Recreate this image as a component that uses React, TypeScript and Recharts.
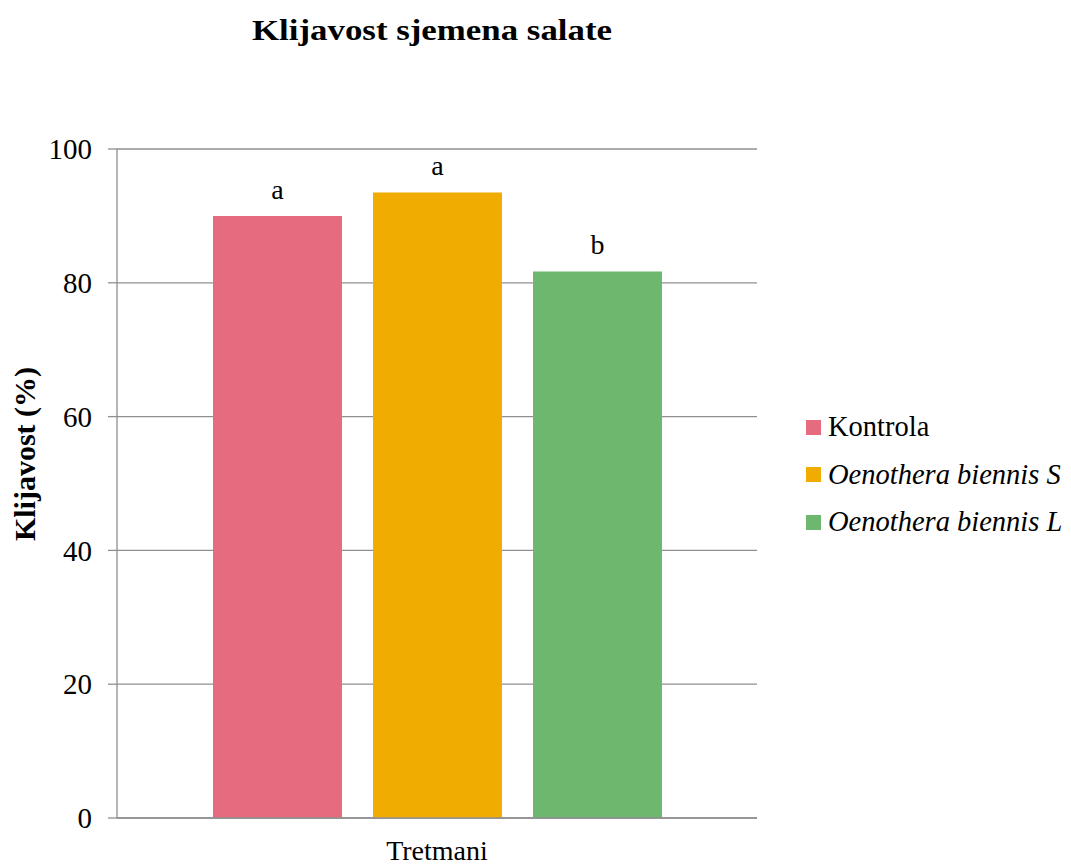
import React from 'react';
import { BarChart, Bar, XAxis, YAxis, CartesianGrid, LabelList } from 'recharts';

const categories = ['Tretmani'];
const seriesNames = ['Kontrola', 'Oenothera biennis S', 'Oenothera biennis L'];
const seriesKeys = ['kontrola', 'obS', 'obL'];
const kontrolaValues = [90];
const obSValues = [93.5];
const obLValues = [81.7];
const significanceLetters = ['a', 'a', 'b'];
const yTicks = [0, 20, 40, 60, 80, 100];
const colors = ['#E66B7E', '#F0AC00', '#6DB76E'];
const italicSeries = [false, true, true];

const data = categories.map((c, i) => ({
  name: c,
  kontrola: kontrolaValues[i],
  obS: obSValues[i],
  obL: obLValues[i],
}));

const FONT = '"Liberation Serif", "Times New Roman", serif';
const GRAY = '#8f8f8f';

export default function App() {
  return (
    <div style={{ position: 'absolute', left: 0, top: 0, width: 1071, height: 865, background: '#fff', fontFamily: FONT }}>
      <svg width={1071} height={70} style={{ position: 'absolute', left: 0, top: 0 }}>
        <text x={432} y={40} textAnchor="middle" fontFamily={FONT} fontWeight="bold" fontSize={30} textLength={360} lengthAdjust="spacingAndGlyphs" fill="#000">
          Klijavost sjemena salate
        </text>
      </svg>
      <div style={{ position: 'absolute', left: 0, top: 0 }}>
        <BarChart
          width={1071}
          height={865}
          data={data}
          margin={{ top: 149, right: 314, bottom: 0, left: 0 }}
          barSize={129}
          barGap={31}
        >
          <CartesianGrid vertical={false} stroke={GRAY} strokeWidth={1.3} />
          <XAxis xAxisId="cat" dataKey="name" hide height={0} />
          <XAxis
            xAxisId="edge"
            type="number"
            domain={[0, 1]}
            ticks={[0, 1]}
            allowDataOverflow
            tick={false}
            tickSize={8}
            height={47}
            axisLine={{ stroke: GRAY, strokeWidth: 1.3 }}
            tickLine={{ stroke: GRAY, strokeWidth: 1.3 }}
            label={{
              content: (props: any) => {
                const vb = props.viewBox;
                return (
                  <text x={vb.x + vb.width / 2} y={vb.y + 42} textAnchor="middle" fontFamily={FONT} fontSize={28} fill="#000">
                    Tretmani
                  </text>
                );
              },
            }}
          />
          <YAxis
            domain={[0, 100]}
            ticks={yTicks}
            width={117}
            tickSize={9}
            tickMargin={16}
            axisLine={{ stroke: GRAY, strokeWidth: 1.3 }}
            tickLine={{ stroke: GRAY, strokeWidth: 1.3 }}
            tick={{ fill: '#000', fontSize: 29, fontFamily: FONT }}
            label={{
              content: () => (
                <text
                  x={24}
                  y={454}
                  transform="rotate(-90, 24, 454)"
                  textAnchor="middle"
                  dominantBaseline="central"
                  fontFamily={FONT}
                  fontWeight="bold"
                  fontSize={30}
                  fill="#000"
                >
                  Klijavost (%)
                </text>
              ),
            }}
          />
          {seriesKeys.map((k, i) => (
            <Bar key={k} xAxisId="cat" dataKey={k} name={seriesNames[i]} fill={colors[i]} isAnimationActive={false}>
              <LabelList
                dataKey={k}
                position="top"
                offset={17}
                formatter={() => significanceLetters[i]}
                style={{ fill: '#000', fontSize: 28, fontFamily: FONT }}
              />
            </Bar>
          ))}
        </BarChart>
      </div>
      {seriesNames.map((n, i) => (
        <div
          key={n}
          style={{
            position: 'absolute',
            left: 806,
            top: 427 + i * 47.5 - 18,
            height: 36,
            display: 'flex',
            alignItems: 'center',
            whiteSpace: 'nowrap',
          }}
        >
          <div style={{ width: 15, height: 15, background: colors[i], marginRight: 7 }} />
          <span style={{ fontSize: 28.5, fontStyle: italicSeries[i] ? 'italic' : 'normal', color: '#000', lineHeight: '36px' }}>{n}</span>
        </div>
      ))}
    </div>
  );
}
